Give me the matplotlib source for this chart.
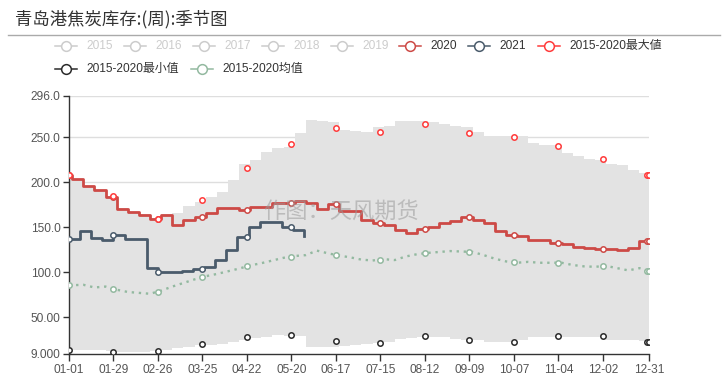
import numpy as np
import pandas as pd
import matplotlib
matplotlib.use('Agg')
import matplotlib.pyplot as plt
from matplotlib.lines import Line2D

plt.rcParams['font.family'] = ['Liberation Sans', 'Noto Sans CJK SC', 'DejaVu Sans']

W, H = 728, 379

# x axis is the mm-dd of a leap year (01-01 .. 12-31)
tick_labels = ['01-01', '01-29', '02-26', '03-25', '04-22', '05-20', '06-17',
               '07-15', '08-12', '09-09', '10-07', '11-04', '12-02', '12-31']
y_ticks = [9, 50, 100, 150, 200, 250, 296]
y_tick_labels = ['9.000', '50.00', '100.0', '150.0', '200.0', '250.0', '296.0']

# weekly dates of 2020 (plus the two year ends)
dates_2020 = (['2020-01-01']
              + list(pd.date_range('2020-01-03', periods=52, freq='7D').strftime('%Y-%m-%d'))
              + ['2020-12-31'])
values_2020 = [208, 204, 195.6, 191, 183.7, 170.7, 167, 164, 159.6, 164,
               153, 157.8, 161.5, 166, 171.9, 171.5, 169.6, 172, 173, 177,
               177, 178.9, 177, 170.7, 176, 168, 168, 157.8, 155, 152,
               146.7, 143.7, 148.5, 150.4, 154.8, 157, 161.5, 157.8, 154.8, 145.9,
               141.9, 140, 135.6, 135.6, 132.6, 131.5, 128, 127.4, 126.3, 126.3,
               124.4, 127, 134.8, 134.8]

# 2015-2020 range band (same weekly dates)
band_upper = [208, 204, 196, 191.5, 184.5, 171, 167.5, 164.5, 160, 164.5,
              165.5, 173.6, 178, 184, 189.5, 202.5, 220, 224.8, 234, 237.8,
              239.6, 254.4, 269.3, 268, 267.4, 258, 256.6, 256, 261, 262.7,
              268, 268, 268, 267, 264.4, 262.7, 261, 256.5, 251, 251,
              251, 251, 243.7, 241.1, 241.1, 232.6, 229.3, 226.3, 224.4, 220.7,
              218.9, 213.3, 210.4, 210.4]
band_lower = [13, 13.5, 14, 13.5, 12.5, 11.5, 11.5, 11.5, 12, 13.5,
              15.5, 17, 18.5, 19.5, 20, 22, 24.5, 26.5, 28, 30,
              28.5, 29.5, 17, 17, 17, 17.5, 19, 20.5, 21, 22,
              26, 26.5, 28, 28, 28, 26, 24.5, 24.5, 22.5, 22.5,
              22.5, 25, 28, 28, 28, 27.5, 27.5, 28, 28, 25,
              24.5, 24.5, 24, 24]
mean_vals = [85.6, 85.5, 86, 83, 84, 80.5, 78, 77, 76, 79.5,
             84, 88, 92, 95.5, 98, 101, 104, 107.5, 110, 113,
             116, 118, 119, 124, 121, 118.5, 116.5, 114, 113, 114.5,
             113.5, 117.5, 120, 121.5, 122.5, 123.5, 123, 122.5, 119, 115,
             112, 110.5, 111.5, 110.5, 110.5, 110.5, 108, 106.5, 106, 107,
             104.5, 102, 104.5, 101]

# 2021 weekly data
dates_2021 = pd.date_range('2021-01-01', periods=22, freq='7D')
values_2021 = [136.7, 146, 138, 136, 141.5, 137, 137, 104.8, 100, 100,
               101, 103.3, 106, 114, 124.4, 139.3, 150.4, 156, 156, 150.4,
               146.7, 140.4]

# symbols of max / min series (shown every 28 days + last day)
max_marks = [208, 184.4, 158.9, 180, 216, 243, 260.7, 256, 264.8, 255.2,
             250.7, 240.7, 225.9, 207.8, 207.8]
min_marks = [13.3, 11.1, 12.2, 20, 28.1, 30, 23.3, 21.5, 28.9, 24.4,
             22.6, 28.9, 28.9, 21.9, 21.9]


def leap_index(dates):
    # position of each date's mm-dd on the leap-year axis
    return np.array([(pd.Timestamp(2020, d.month, d.day) - pd.Timestamp(2020, 1, 1)).days
                     for d in pd.to_datetime(dates)])


def step_at(x, y, pts):
    idx = np.searchsorted(x, pts, side='right') - 1
    return np.asarray(y)[idx]


x20 = leap_index(dates_2020)
x21 = leap_index(dates_2021)
tick_pos = list(range(0, 337, 28)) + [365]
mark_pos = np.array(list(range(0, 365, 28)) + [365])

c2020 = '#cd4a46'
c2021 = '#4a5b6b'
cmax = '#ff3b3b'
cmin = '#2b2b2b'
cmean = '#93b9a0'
MS, MEW = 3.9, 1.1

fig = plt.figure(figsize=(W / 100, H / 100), dpi=100)
ax = fig.add_axes([69 / W, 1 - 354 / H, 580 / W, 258 / H])

ax.fill_between(x20, band_lower, band_upper, step='post', color='#e3e3e3', lw=0, zorder=1)

for yv in y_ticks[1:]:
    ax.axhline(yv, color='#dedede', lw=1, zorder=0.5)

# mean
ax.plot(x20, mean_vals, color=cmean, lw=1.7, ls=(0, (1, 2)), zorder=2)
ax.plot(mark_pos, np.interp(mark_pos, x20, mean_vals), ls='none', marker='o', ms=MS,
        mfc='white', mec=cmean, mew=MEW, zorder=5)

# 2020
ax.plot(x20, values_2020, drawstyle='steps-post', color=c2020, lw=2, zorder=3)
ax.plot(mark_pos, step_at(x20, values_2020, mark_pos), ls='none', marker='o', ms=MS,
        mfc='white', mec=c2020, mew=MEW, zorder=5)

# 2021
ax.plot(x21, values_2021, drawstyle='steps-post', color=c2021, lw=2, zorder=3)
m21 = mark_pos[mark_pos <= x21[-1]]
ax.plot(m21, step_at(x21, values_2021, m21), ls='none', marker='o', ms=MS,
        mfc='white', mec=c2021, mew=MEW, zorder=5)

# max / min symbols
ax.plot(mark_pos, max_marks, ls='none', marker='o', ms=MS, mfc='white', mec=cmax, mew=MEW, zorder=5)
ax.plot(mark_pos, min_marks, ls='none', marker='o', ms=MS, mfc='white', mec=cmin, mew=MEW, zorder=5)

ax.set_xlim(0, 365)
ax.set_ylim(9, 296)
ax.set_xticks(tick_pos)
ax.set_xticklabels(tick_labels)
ax.set_yticks(y_ticks)
ax.set_yticklabels(y_tick_labels)
ax.tick_params(axis='x', length=5, width=1, color='#333333', labelcolor='#555555', labelsize=8.6, pad=2)
ax.tick_params(axis='y', length=4, width=1, color='#333333', labelcolor='#555555', labelsize=8.6, pad=2)
for s in ['top', 'right']:
    ax.spines[s].set_visible(False)
for s in ['left', 'bottom']:
    ax.spines[s].set_color('#333333')
    ax.spines[s].set_linewidth(1)
ax.set_facecolor('white')

# title and rule
fig.text(15 / W, 1 - 19.5 / H, '青岛港焦炭库存:(周):季节图', fontsize=12.5, color='#333333',
         va='center', ha='left', family=['Noto Sans CJK SC', 'DejaVu Sans'])
fig.add_artist(Line2D([8 / W, 720 / W], [1 - 34.5 / H, 1 - 34.5 / H], color='#aaaaaa', lw=1))

# legend
legend_items = [
    ('2015', '#cccccc', '#cccccc', 55, 46),
    ('2016', '#cccccc', '#cccccc', 124, 46),
    ('2017', '#cccccc', '#cccccc', 193, 46),
    ('2018', '#cccccc', '#cccccc', 262, 46),
    ('2019', '#cccccc', '#cccccc', 331, 46),
    ('2020', c2020, '#333333', 399, 46),
    ('2021', c2021, '#333333', 468, 46),
    ('2015-2020最大値', cmax, '#333333', 538, 46),
    ('2015-2020最小值', cmin, '#333333', 55, 69),
    ('2015-2020均值', cmean, '#333333', 191, 69),
]
for label, col, tcol, lx, ly in legend_items:
    fy = 1 - ly / H
    fig.add_artist(Line2D([lx / W, (lx + 22) / W], [fy, fy], color=col, lw=1.1))
    fig.add_artist(Line2D([(lx + 11) / W], [fy], marker='o', ms=7, mfc='white', mec=col, mew=1.1))
    fig.text((lx + 31) / W, fy, label, fontsize=8.6, color=tcol, va='center', ha='left',
             family=['Liberation Sans', 'Noto Sans CJK SC', 'DejaVu Sans'])

# watermark
fig.text(341 / W, 1 - 212 / H, '作图：天风期货', fontsize=16, color='#9a9a9a', alpha=0.55,
         ha='center', va='center', family=['Noto Sans CJK SC', 'DejaVu Sans'])

fig.savefig('out.png', dpi=100)
